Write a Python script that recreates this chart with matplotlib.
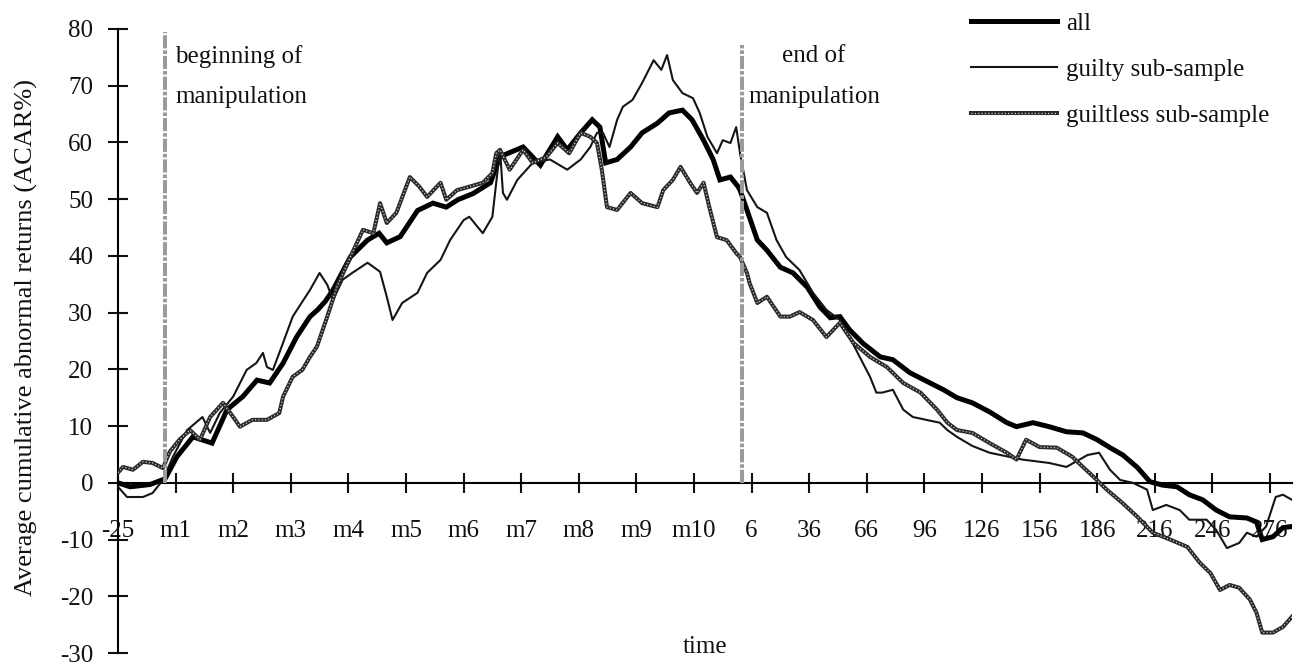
import matplotlib
matplotlib.use("Agg")
import matplotlib.pyplot as plt
from matplotlib.lines import Line2D
from matplotlib.legend_handler import HandlerTuple

plt.rcParams['font.family'] = ['Liberation Serif', 'DejaVu Serif']
plt.rcParams['axes.unicode_minus'] = False
plt.rcParams['lines.scale_dashes'] = False

# ---------------- data (x = trading-day index from start of window) ----------------
tick_pos = [0, 30, 60, 90, 120, 150, 180, 210, 240, 270, 300, 330, 360, 390, 420,
            450, 480, 510, 540, 570, 600]
tick_labels = ['-25', 'm1', 'm2', 'm3', 'm4', 'm5', 'm6', 'm7', 'm8', 'm9', 'm10',
               '6', '36', '66', '96', '126', '156', '186', '216', '246', '276']
y_ticks = [-30, -20, -10, 0, 10, 20, 30, 40, 50, 60, 70, 80]

event_x = [24.5, 325]
event_top = [79.5, 77.2]

all_x = [0, 6.3, 16.7, 24.5, 30.7, 39, 49, 56.8, 65, 72.4, 79, 86, 93, 100, 104, 108, 112,
         121, 130, 136, 140, 147, 156, 164, 171, 177, 185, 194, 197, 199, 211, 220, 229,
         234, 241, 247, 251, 254, 260, 267, 273, 281, 287, 294, 299, 305, 310, 313.5, 319,
         323, 324, 327.6, 333, 338, 345, 351.6, 359, 365.6, 371, 376, 381, 388, 397,
         403.6, 412.5, 423, 430, 437, 445, 454, 463, 468, 476.6, 485, 494, 502.6, 510,
         516.7, 523.4, 531, 537.5, 544, 551.6, 558, 565, 572, 579, 588, 593, 596, 601.6,
         606.8, 611.5]
all_y = [0, -0.7, -0.3, 0.7, 4.6, 8.1, 7.0, 12.9, 15.2, 18.1, 17.6, 21.1, 25.7, 29.3, 30.5,
         32, 34, 39.8, 42.8, 44, 42.3, 43.4, 48, 49.3, 48.6, 49.9, 51, 52.9, 55.7, 57.5,
         59.2, 56, 61, 58.7, 61.7, 64, 62.7, 56.4, 57, 59.2, 61.7, 63.4, 65.2, 65.7, 64,
         60.4, 57, 53.4, 53.9, 52.2, 51.6, 48.1, 42.8, 41, 38, 37, 34.5, 31, 29.1, 29.3,
         27, 24.6, 22.2, 21.7, 19.4, 17.6, 16.4, 15, 14.1, 12.5, 10.6, 9.9, 10.6, 9.9, 9,
         8.8, 7.6, 6.2, 4.9, 2.7, 0.2, -0.4, -0.7, -2.1, -3, -4.8, -6, -6.2, -6.9, -10,
         -9.5, -7.9, -7.7]

guilty_x = [0, 4.7, 13, 18, 23.4, 28.6, 36, 44, 48, 53, 60, 67, 72, 75.5, 77.6, 80.7, 86,
            91, 95, 100, 105, 109, 112, 117, 122, 130, 136.5, 140, 143, 148, 156, 161, 168,
            173, 180, 183, 190, 195, 197, 199, 200.5, 202.6, 208, 216, 225, 234, 241, 246,
            249.5, 252.6, 256, 260, 263, 268, 273, 279, 283, 286, 289, 294, 299.5, 303,
            307, 312, 315, 319, 322, 324, 327.6, 333, 338, 343, 348, 355, 362, 369, 376,
            381, 388, 391.7, 395, 398, 403.6, 409, 414, 421, 428, 432, 437, 445, 454, 471,
            485, 494, 505, 511, 516.7, 522, 528.6, 536, 539, 546, 553, 558, 567, 572,
            577.6, 584, 588, 593, 598, 603, 606.8, 611.5]
guilty_y = [-0.7, -2.5, -2.5, -1.8, 0.5, 4.6, 9.3, 11.6, 8.8, 12.3, 15.2, 19.9, 21.1, 22.9,
            20.4, 19.9, 24.7, 29.3, 31.4, 34, 37, 34.9, 32.2, 35.8, 37, 38.8, 37.2, 32.8,
            28.7, 31.7, 33.5, 37, 39.3, 42.8, 46.3, 46.9, 44, 46.9, 52.9, 58.7, 51.1, 49.9,
            53.4, 56.4, 57, 55.2, 57, 59.2, 61.7, 61.7, 59.2, 64, 66.3, 67.5, 70.5, 74.5,
            72.8, 75.4, 71, 68.7, 67.8, 65.2, 61, 58.1, 60.4, 59.9, 62.7, 58.1, 51.6, 48.6,
            47.6, 42.8, 39.8, 37.5, 33.5, 30.5, 28.7, 25.7, 21.1, 18.7, 15.9, 15.9, 16.4,
            12.9, 11.6, 11.1, 10.6, 9.3, 8.1, 6.5, 5.3, 4.1, 3.5, 2.8, 4.9, 5.3, 2.3, 0.5,
            0, -1.2, -4.8, -3.9, -4.8, -6.5, -6.5, -8.3, -11.5, -10.6, -8.8, -9.5, -7.7,
            -2.5, -2.1, -3]

guiltless_x = [0, 2.6, 7.8, 13, 18, 23.4, 27, 32, 37.5, 42.7, 48, 54.7, 60, 63.5, 70, 77.6,
               84, 86, 91, 96, 100, 103.6, 109, 114, 121, 127.6, 133, 136.5, 140, 145, 152,
               157, 161, 168, 171, 176.6, 183, 190, 195, 197, 199, 204, 211, 216, 223, 229,
               235, 241, 246, 249.5, 252, 254.7, 260, 267, 273, 281, 284, 289, 293, 298,
               301.6, 305, 308, 312, 317, 322, 324, 327.6, 329, 333, 338, 345, 350, 355,
               362, 369, 376, 383, 391.7, 400.5, 409, 418, 426.6, 432, 437, 445, 454, 463,
               468, 473, 480, 489, 497, 502.6, 508, 515, 523, 531, 539, 548, 557, 563.5,
               569, 574, 579, 584, 589.6, 593, 596, 601.6, 606.8, 611.5]
guiltless_y = [1.8, 2.8, 2.3, 3.7, 3.5, 2.6, 5.5, 7.6, 9.3, 7.6, 11.6, 14.1, 11.6, 9.9, 11.1,
               11.1, 12.3, 15.2, 18.7, 19.9, 22.2, 24, 29.3, 34.5, 39.8, 44.6, 44, 49.3,
               45.8, 47.6, 53.9, 52.2, 50.4, 52.9, 49.9, 51.6, 52.2, 52.9, 54.6, 58.1, 58.7,
               55.2, 58.7, 56.4, 57.4, 59.9, 58.1, 61.7, 61, 59.9, 55.2, 48.6, 48.1, 51.1,
               49.3, 48.6, 51.6, 53.4, 55.7, 52.9, 51.1, 52.9, 48.6, 43.3, 42.8, 40.5, 39.8,
               37, 35.2, 31.7, 32.8, 29.3, 29.3, 30.1, 28.7, 25.7, 28.2, 24.7, 22.2, 20.4,
               17.6, 15.9, 12.9, 10.6, 9.3, 8.8, 7, 5.3, 4.1, 7.6, 6.3, 6.2, 4.6, 2.8, 1.1,
               -1.2, -3.5, -6, -8.8, -10, -11.3, -14.1, -15.9, -18.9, -18, -18.5, -20.6,
               -22.9, -26.4, -26.4, -25.4, -23.6]

series_labels = ['all', 'guilty sub-sample', 'guiltless sub-sample']
annot_begin = ['beginning of', 'manipulation']
annot_end = ['end of', 'manipulation']

# ---------------- figure ----------------
W, H = 1295, 662
fig = plt.figure(figsize=(W / 100, H / 100), dpi=100)
ax = fig.add_axes([118 / W, 1 - 653 / H, (1292 - 118) / W, (653 - 29) / H])
ax.set_xlim(0, 611.5)
ax.set_ylim(-30, 80)

FS = 18
TXT = '#111111'

gl_base_kw = dict(color='#2a2a2a', lw=2.9)
gl_dots_kw = dict(color='#d8d8d8', lw=0.9, linestyle=(0, (0.8, 1.6)))

ax.plot(all_x, all_y, color='black', lw=3.6, solid_joinstyle='miter', zorder=3)
ax.plot(guilty_x, guilty_y, color='#151515', lw=1.5, zorder=4)
ax.plot(guiltless_x, guiltless_y, zorder=5, **gl_base_kw)
ax.plot(guiltless_x, guiltless_y, zorder=6, **gl_dots_kw)

ax.vlines(event_x, 0, event_top, colors='#9a9a9a', lw=2.9,
          linestyles=[(0, (9.5, 1.4, 2.6, 1.4))], zorder=7)

# spines / axes
for s in ['top', 'right']:
    ax.spines[s].set_visible(False)
ax.spines['bottom'].set_position(('data', 0))
for s in ['left', 'bottom']:
    ax.spines[s].set_linewidth(1.5)
    ax.spines[s].set_zorder(2)

ax.set_yticks(y_ticks)
ax.set_yticklabels([str(v) for v in y_ticks])
ax.set_xticks(tick_pos)
ax.set_xticklabels(tick_labels)
ax.tick_params(axis='both', direction='inout', length=13.7, width=1.5, labelsize=FS,
               color=TXT, labelcolor=TXT)
ax.tick_params(axis='y', pad=11.0)
ax.tick_params(axis='x', pad=20)

ax.set_xlabel('time', fontsize=FS, color=TXT)
ax.xaxis.set_label_coords(0.5, 0.0)
ax.xaxis.label.set_verticalalignment('baseline')
ax.set_ylabel('Average cumulative abnormal returns (ACAR%)', fontsize=19, color=TXT)
ax.yaxis.set_label_coords(-0.0784, 0.505)
ax.yaxis.label.set_verticalalignment('center')
ax.yaxis.label.set_horizontalalignment('center')

# annotations
ax.text(29.7, 74.0, annot_begin[0], fontsize=FS, ha='left', va='baseline', color=TXT)
ax.text(29.7, 67.0, annot_begin[1], fontsize=FS, ha='left', va='baseline', color=TXT)
ax.text(362.5, 74.2, annot_end[0], fontsize=FS, ha='center', va='baseline', color=TXT)
ax.text(362.5, 67.0, annot_end[1], fontsize=FS, ha='center', va='baseline', color=TXT)

# legend
h_all = Line2D([], [], color='black', lw=3.6)
h_guilty = Line2D([], [], color='#151515', lw=1.5)
h_gl_base = Line2D([], [], **gl_base_kw)
h_gl_dots = Line2D([], [], **gl_dots_kw)
leg = fig.legend([h_all, h_guilty, (h_gl_base, h_gl_dots)], series_labels,
                 handler_map={tuple: HandlerTuple(ndivide=1, pad=0)},
                 loc='upper left', bbox_to_anchor=(971 / W, 1 - 12 / H),
                 bbox_transform=fig.transFigure, frameon=False, fontsize=FS,
                 borderpad=0, borderaxespad=0, handlelength=3.44, handletextpad=0.36,
                 labelspacing=0.95)
for t in leg.get_texts():
    t.set_color(TXT)

fig.savefig('out.png', dpi=100)
